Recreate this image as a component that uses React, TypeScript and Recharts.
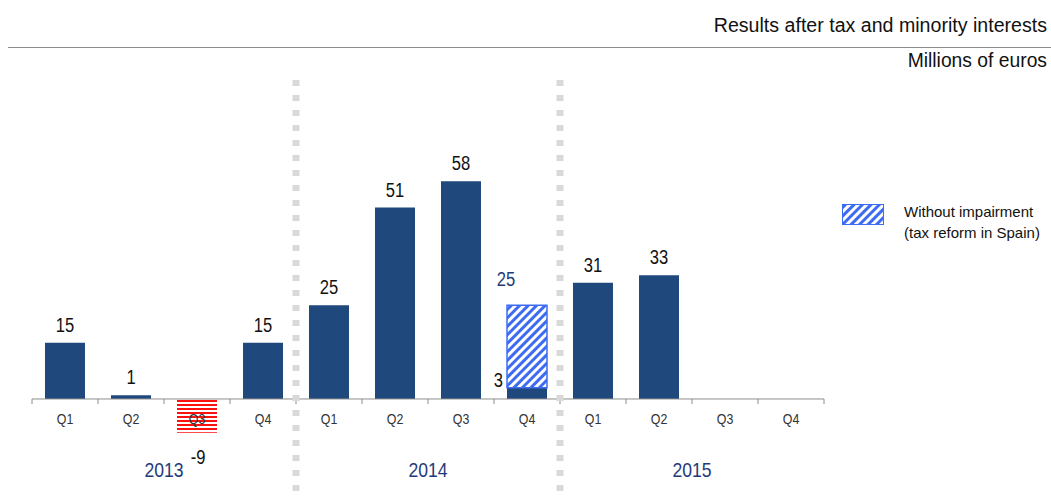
import { BarChart, Bar, XAxis, YAxis, ReferenceLine, LabelList, Cell } from "recharts";

const years = ["2013", "2014", "2015"];
const quarters = ["Q1", "Q2", "Q3", "Q4"];
const results = [15, 1, -9, 15, 25, 51, 58, 3, 31, 33, null, null];
const withoutImpairment = [null, null, null, null, null, null, null, 25, null, null, null, null];
const yDomain = [-12, 85];

const FONT = "'Liberation Sans', Arial, sans-serif";
const NAVY = "#1f497d";
const LABEL_NAVY = "#1f3a7a";
const HATCH = "#3d6cf2";

const data = years.flatMap((y, yi) =>
  quarters.map((q, qi) => {
    const i = yi * 4 + qi;
    const r = results[i];
    const w = withoutImpairment[i];
    return {
      key: `${y} ${q}`,
      year: y,
      q,
      result: r,
      extra: w != null && r != null ? w - r : null,
      total: w,
    };
  })
);

// narrow-looking text: scaled horizontally around its anchor point
const NText = ({ x, y, anchor = "middle", size, fill, sx, children }: any) => (
  <text
    transform={`translate(${x} ${y}) scale(${sx} 1)`}
    textAnchor={anchor}
    fontSize={size}
    fill={fill}
    fontFamily={FONT}
  >
    {children}
  </text>
);

const QTick = (props: any) => {
  const { x, y, payload } = props;
  return (
    <NText x={x} y={y - 20} size={15.5} fill="#333" sx={0.8}>
      {String(payload.value).split(" ")[1]}
    </NText>
  );
};

const YearTick = (props: any) => {
  const { x, y, payload } = props;
  return (
    <NText x={x} y={y + 8} size={20} fill={LABEL_NAVY} sx={0.88}>
      {payload.value}
    </NText>
  );
};

const ResultLabel = (props: any) => {
  const { x, y, width, height, value, index } = props;
  if (value == null) return null;
  const top = Math.min(y, y + height);
  const bottom = Math.max(y, y + height);
  const cx = x + width / 2;
  if (value < 0) {
    return (
      <NText x={cx + 1} y={bottom + 31} size={19.5} fill="#111" sx={0.85}>
        {value}
      </NText>
    );
  }
  if (data[index] && data[index].total != null) {
    return (
      <NText x={x - 4} y={top - 1} anchor="end" size={19.5} fill="#111" sx={0.85}>
        {value}
      </NText>
    );
  }
  return (
    <NText x={cx} y={top - 11} size={19.5} fill="#111" sx={0.85}>
      {value}
    </NText>
  );
};

const TotalLabel = (props: any) => {
  const { x, y, width, height, value } = props;
  if (value == null) return null;
  const top = Math.min(y, y + height);
  return (
    <NText x={x + width / 2 - 21} y={top - 19} size={19.5} fill={LABEL_NAVY} sx={0.85}>
      {value}
    </NText>
  );
};

export default function App() {
  const keys = data.map((d) => d.key);
  return (
    <div style={{ position: "absolute", left: 0, top: 0, width: 1051, height: 499, background: "#fff", fontFamily: FONT }}>
      <div style={{ position: "absolute", right: 4, top: 14, fontSize: 19.6, color: "#111", whiteSpace: "nowrap" }}>
        Results after tax and minority interests
      </div>
      <div style={{ position: "absolute", left: 8, right: 0, top: 47, height: 1, background: "#8c8c8c" }} />
      <div style={{ position: "absolute", right: 4, top: 50, fontSize: 19.3, color: "#111", whiteSpace: "nowrap" }}>
        Millions of euros
      </div>

      <BarChart
        width={1051}
        height={499}
        data={data}
        margin={{ top: 80, right: 227, bottom: 5, left: 32 }}
        style={{ position: "absolute", left: 0, top: 0 }}
      >
        <defs>
          <pattern id="blueHatch" width="6" height="6" patternUnits="userSpaceOnUse" patternTransform="rotate(45)">
            <rect x="0" y="0" width="6" height="6" fill="#fff" />
            <rect x="0" y="0" width="3" height="6" fill={HATCH} />
          </pattern>
          <pattern id="redStripes" width="4" height="4" patternUnits="userSpaceOnUse">
            <rect x="0" y="0" width="4" height="4" fill="#fff" />
            <rect x="0" y="0" width="4" height="2" fill="#ff1010" />
          </pattern>
        </defs>
        <XAxis
          xAxisId="q"
          dataKey="key"
          axisLine={false}
          tickLine={false}
          tickSize={0}
          tickMargin={0}
          height={25}
          interval={0}
          tick={<QTick />}
        />
        <XAxis
          xAxisId="year"
          dataKey="year"
          allowDuplicatedCategory={false}
          axisLine={false}
          tickLine={false}
          tickSize={0}
          tickMargin={0}
          height={25}
          interval={0}
          tick={<YearTick />}
        />
        <YAxis hide domain={yDomain} type="number" />
        <ReferenceLine xAxisId="q" y={0} stroke="#8c8c8c" strokeWidth={1} />
        {keys.map((k) => (
          <ReferenceLine
            key={`t-${k}`}
            xAxisId="q"
            position="start"
            ifOverflow="visible"
            segment={[{ x: k, y: 0 }, { x: k, y: -1.35 }]}
            stroke="#8c8c8c"
          />
        ))}
        <ReferenceLine
          xAxisId="q"
          position="end"
          ifOverflow="visible"
          segment={[{ x: keys[keys.length - 1], y: 0 }, { x: keys[keys.length - 1], y: -1.35 }]}
          stroke="#8c8c8c"
        />
        <Bar xAxisId="q" dataKey="result" stackId="a" fill={NAVY} barSize={40} isAnimationActive={false}>
          {data.map((d) => (
            <Cell key={d.key} fill={d.result != null && d.result < 0 ? "url(#redStripes)" : NAVY} />
          ))}
          <LabelList dataKey="result" content={<ResultLabel />} />
        </Bar>
        <Bar
          xAxisId="q"
          dataKey="extra"
          stackId="a"
          fill="url(#blueHatch)"
          stroke={HATCH}
          strokeWidth={1.5}
          barSize={40}
          isAnimationActive={false}
        >
          <LabelList dataKey="total" content={<TotalLabel />} />
        </Bar>
        {["2014 Q1", "2015 Q1"].map((k) => (
          <ReferenceLine
            key={`sep-${k}`}
            xAxisId="q"
            position="start"
            ifOverflow="visible"
            segment={[{ x: k, y: 85 }, { x: k, y: -26.6 }]}
            stroke="#d9d9d9"
            strokeWidth={7}
            strokeDasharray="6 9"
          />
        ))}
      </BarChart>

      <div style={{ position: "absolute", left: 842, top: 204, width: 40, height: 19, border: `1.5px solid ${HATCH}` }}>
        <svg width={40} height={19} style={{ display: "block" }}>
          <defs>
            <pattern id="legendHatch" width="6" height="6" patternUnits="userSpaceOnUse" patternTransform="rotate(45)">
              <rect x="0" y="0" width="6" height="6" fill="#fff" />
              <rect x="0" y="0" width="3" height="6" fill={HATCH} />
            </pattern>
          </defs>
          <rect x={0} y={0} width={40} height={19} fill="url(#legendHatch)" />
        </svg>
      </div>
      <div style={{ position: "absolute", left: 904, top: 201, fontSize: 15, lineHeight: "21px", color: "#111", whiteSpace: "nowrap" }}>
        Without impairment
        <br />
        (tax reform in Spain)
      </div>
    </div>
  );
}
